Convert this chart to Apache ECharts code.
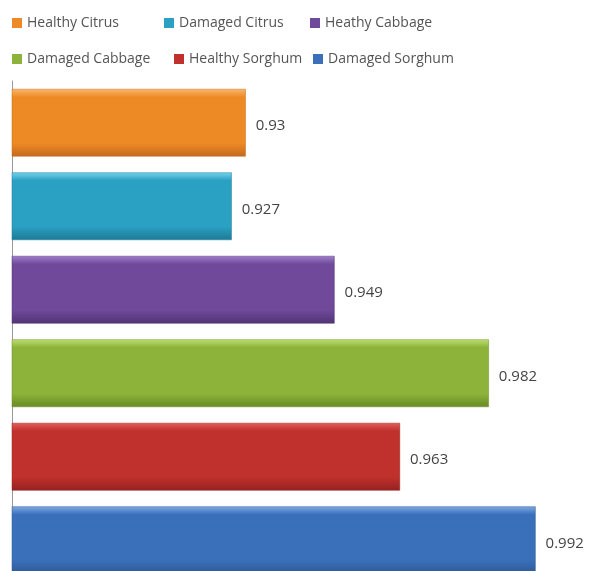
<!DOCTYPE html>
<html>
<head>
<meta charset="utf-8">
<script src="https://cdn.jsdelivr.net/npm/echarts@6/dist/echarts.min.js"></script>
<style>
  html, body { margin: 0; padding: 0; background: #fff; }
  #chart { width: 591px; height: 571px; }
</style>
</head>
<body>
<div id="chart"></div>
<script>
// one category per bar, top to bottom
var categories = ['Healthy Citrus', 'Damaged Citrus', 'Heathy Cabbage', 'Damaged Cabbage', 'Healthy Sorghum', 'Damaged Sorghum']
var values = [0.93, 0.927, 0.949, 0.982, 0.963, 0.992]

// [top highlight, main, bottom shade]
var palette = [
  ['#f9b86c', '#ee8a26', '#c46a1c'],
  ['#72d4ec', '#2aa0c2', '#1d7a96'],
  ['#a07fcb', '#70499b', '#523474'],
  ['#bde070', '#8db33a', '#688a26'],
  ['#e0605a', '#c0302c', '#952220'],
  ['#7eaae2', '#3a70b9', '#2b5894']
]

// legend item positions (two rows of three)
var legendPos = [[12, 16], [164, 16], [310, 16], [12, 52], [174, 52], [313, 52]]

var chart = echarts.init(document.getElementById('chart'))

function barColor(c) {
  return new echarts.graphic.LinearGradient(0, 0, 0, 1, [
    { offset: 0, color: c[0] },
    { offset: 0.12, color: c[1] },
    { offset: 0.8, color: c[1] },
    { offset: 1, color: c[2] }
  ])
}

var series = categories.map(function (name, i) {
  var data = values.map(function (v, j) { return j === i ? v : '-' })
  return {
    name: name,
    type: 'bar',
    barGap: '-100%',
    barCategoryGap: '19%',
    itemStyle: {
      color: barColor(palette[i]),
      borderColor: palette[i][2],
      borderWidth: 0.5
    },
    label: {
      show: true,
      position: 'right',
      distance: 10,
      offset: [0, 3],
      color: '#444',
      fontSize: 15,
      fontFamily: 'Open Sans'
    },
    data: data
  }
})

var legends = categories.map(function (name, i) {
  return {
    left: legendPos[i][0],
    top: legendPos[i][1],
    padding: 0,
    itemWidth: 10,
    itemHeight: 10,
    itemGap: 5,
    icon: 'rect',
    textStyle: { color: '#555', fontSize: 14, fontFamily: 'Open Sans' },
    data: [{ name: name, itemStyle: { color: palette[i][1], borderWidth: 0 } }]
  }
})

chart.setOption({
  animation: false,
  legend: legends,
  grid: {
    left: 12,
    right: 18,
    top: 81,
    height: 501,
    outerBoundsMode: 'none',
    containLabel: false
  },
  xAxis: {
    type: 'value',
    min: 0.88,
    max: 1.0,
    show: false
  },
  yAxis: {
    type: 'category',
    inverse: true,
    data: categories,
    axisLine: { show: true, lineStyle: { color: '#999', width: 1 } },
    axisTick: { show: false },
    axisLabel: { show: false }
  },
  series: series
})
</script>
</body>
</html>
